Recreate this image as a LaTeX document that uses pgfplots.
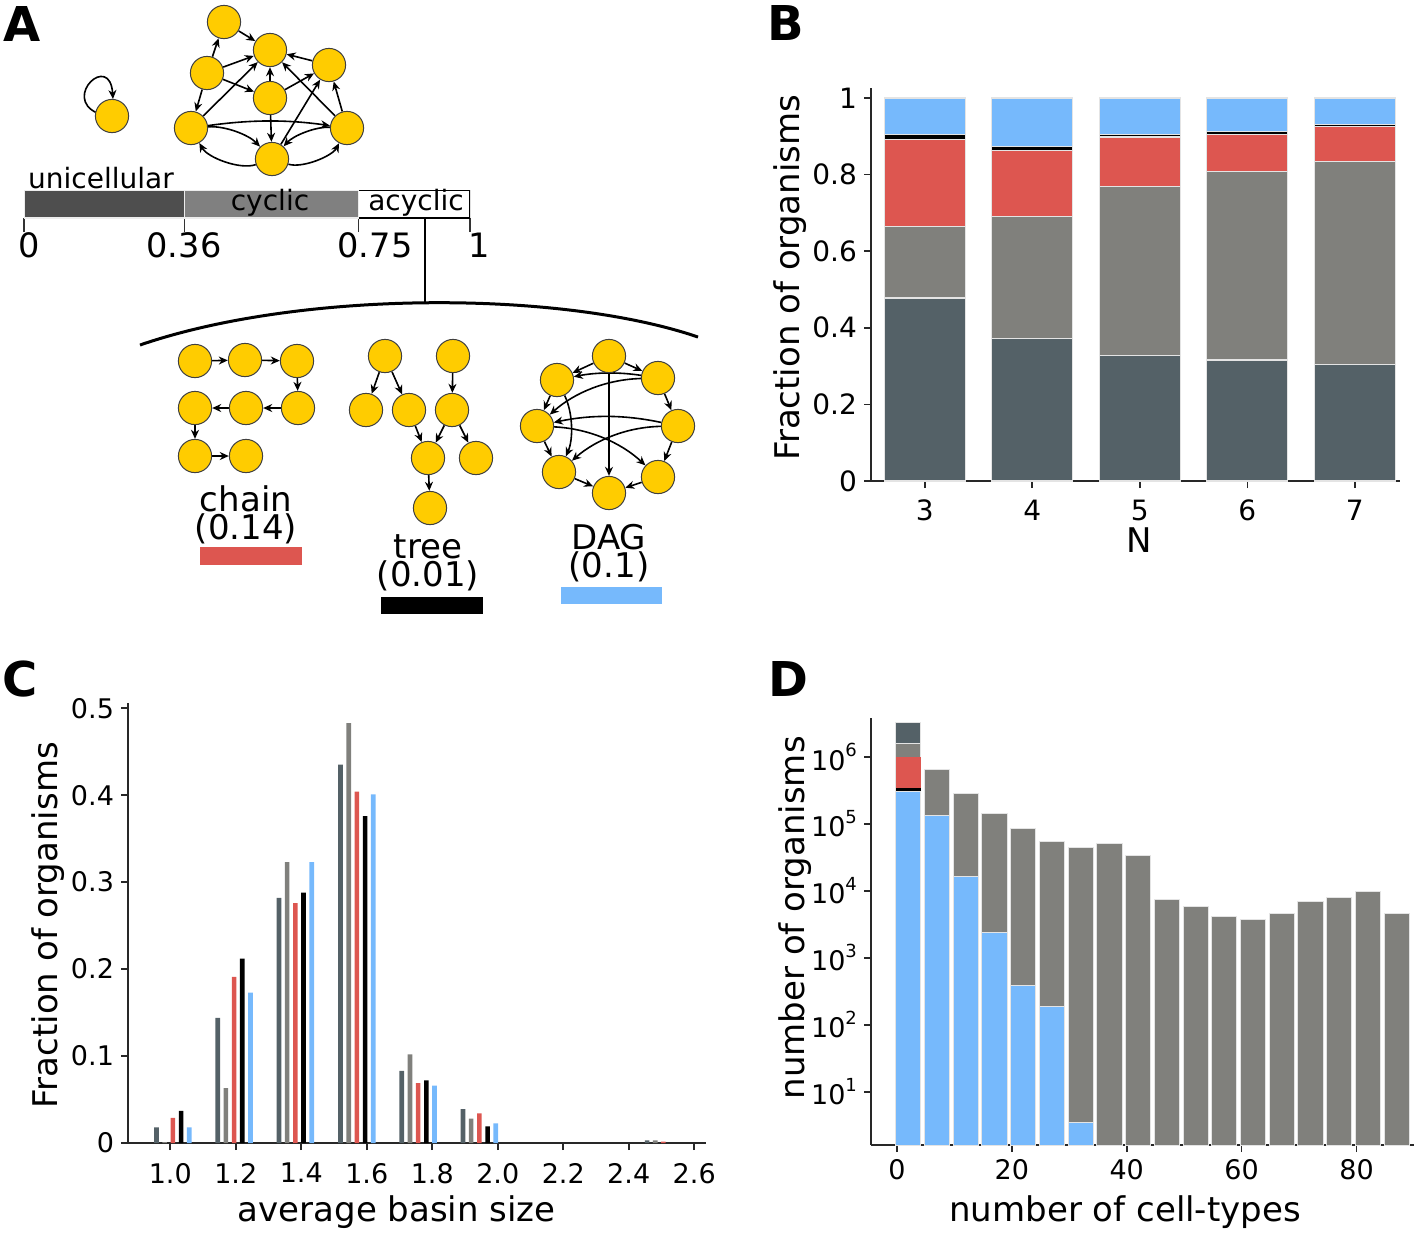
\documentclass[border=0pt]{standalone}
\usepackage{fontspec}
\setmainfont{DejaVu Sans}
\usepackage{pgfplots}
\pgfplotsset{compat=1.18}
\usetikzlibrary{arrows.meta}
\definecolor{cUni}{RGB}{84,97,103}
\definecolor{cCyc}{RGB}{128,128,124}
\definecolor{cChain}{RGB}{221,86,80}
\definecolor{cDAG}{RGB}{118,185,252}
\definecolor{cNode}{RGB}{255,204,0}
\definecolor{cBarDark}{RGB}{78,78,78}
\definecolor{cBarGray}{RGB}{128,128,128}
\definecolor{cEdge}{RGB}{228,228,228}
\definecolor{cAx}{RGB}{40,40,40}
\newcommand{\fs}[1]{\fontsize{#1}{#1}\selectfont}
\pgfplotsset{
  panel/.style={scale only axis, axis x line*=bottom, axis y line*=left,
    axis line style={cAx, line width=0.8pt}, tick style={cAx, line width=0.8pt},
    tick align=outside, major tick length=3.5pt,
    /pgf/number format/assume math mode=true,
    ticklabel style={font=\fs{14}}, label style={font=\fs{17}}},
}
\tikzset{arr/.style={-{Stealth[length=4.5pt,width=4pt]}, line width=0.8pt, black, shorten >=8.6pt, shorten <=8.6pt},
  twoline/.style={align=center, inner sep=0pt, font=\fontsize{17}{14}\selectfont}}
\newcommand{\pedge}[4]{\addplot[arr] coordinates {(#1,#2) (#3,#4)};}
\newcommand{\cedge}[5]{\draw[arr] (axis cs:#1,#2) to[#5] (axis cs:#3,#4);}
\begin{document}
\begin{tikzpicture}
% ---------------- Panel A bar ----------------
\begin{axis}[at={(12pt,-109pt)}, anchor=south west, scale only axis, width=223pt, height=14pt,
  xmin=0, xmax=1, ymin=-0.5, ymax=0.5, xbar stacked, bar width=14pt,
  hide y axis, axis x line*=bottom, axis line style={draw=none},
  xtick={0,0.36,0.75,1}, xticklabels={}, tick align=outside, major tick length=7pt,
  tick style={black!80, line width=0.6pt}]
\addplot[fill=cBarDark, draw=white!85!gray, line width=0.6pt] coordinates {(0.36,0)};
\addplot[fill=cBarGray, draw=white!85!gray, line width=0.6pt] coordinates {(0.39,0)};
\addplot[fill=white, draw=black, line width=0.8pt] coordinates {(0.25,0)};
\end{axis}
% ---------------- Panel A (diagram, pixel coordinates) ----------------
\begin{axis}[at={(0pt,0pt)}, anchor=north west, scale only axis, width=360pt, height=310pt,
  xmin=0, xmax=720, ymin=0, ymax=620, y dir=reverse, hide axis, clip=false]
% top graph
\pedge{224}{22}{270}{50}
\pedge{207}{73}{224}{22}
\pedge{207}{73}{270}{50}
\pedge{207}{73}{270}{98}
\pedge{207}{73}{191}{128}
\pedge{329}{65}{270}{50}
\pedge{270}{98}{270}{50}
\pedge{270}{98}{329}{65}
\pedge{270}{98}{272}{159}
\pedge{191}{128}{270}{50}
\pedge{347}{128}{270}{50}
\pedge{347}{128}{329}{65}
\pedge{272}{159}{329}{65}
\cedge{191}{128}{347}{128}{bend left=8}
\cedge{191}{128}{272}{159}{bend left=25}
\cedge{347}{128}{272}{159}{bend right=25}
\cedge{272}{159}{191}{128}{bend left=40}
\cedge{272}{159}{347}{128}{bend right=40}
\draw[-{Stealth[length=4.5pt,width=4pt]}, line width=0.8pt] (axis cs:97,113) .. controls (axis cs:62,97) and (axis cs:110,52) .. (axis cs:113,99);
% chain
\pedge{195}{361}{245}{360}
\pedge{245}{360}{297}{361}
\pedge{297}{361}{298}{408}
\pedge{298}{408}{246}{408}
\pedge{246}{408}{195}{408}
\pedge{195}{408}{195}{456}
\pedge{195}{456}{246}{456}
% tree
\pedge{385}{356}{366}{410}
\pedge{385}{356}{409}{410}
\pedge{453}{356}{452}{410}
\pedge{409}{410}{428}{458}
\pedge{452}{410}{428}{458}
\pedge{452}{410}{476}{458}
\pedge{428}{458}{430}{508}
% DAG
\pedge{609}{356}{557}{380}
\pedge{609}{356}{658}{378}
\pedge{609}{356}{609}{493}
\pedge{658}{378}{678}{426}
\pedge{557}{380}{537}{426}
\pedge{537}{426}{559}{472}
\pedge{678}{426}{658}{477}
\pedge{559}{472}{609}{493}
\pedge{658}{477}{609}{493}
\cedge{658}{378}{557}{380}{bend right=10}
\cedge{658}{378}{537}{426}{bend right=20}
\cedge{557}{380}{559}{472}{bend left=25}
\cedge{678}{426}{537}{426}{bend right=12}
\cedge{678}{426}{559}{472}{bend right=20}
\cedge{537}{426}{658}{477}{bend left=20}
% nodes
\addplot[only marks, mark=*, mark size=8.3pt, mark options={fill=cNode, draw=black!75, line width=0.5pt}] coordinates {
 (112,116) (224,22) (270,50) (207,73) (329,65) (270,98) (191,128) (347,128) (272,159)
 (195,361) (245,360) (297,361) (195,408) (246,408) (298,408) (195,456) (246,456)
 (385,356) (453,356) (366,410) (409,410) (452,410) (428,458) (476,458) (430,508)
 (609,356) (557,380) (658,378) (537,426) (678,426) (559,472) (658,477) (609,493)};
% bracket
\draw[line width=0.8pt] (axis cs:425,218) -- (axis cs:425,302);
\draw[line width=1.5pt] (axis cs:140,345) .. controls (axis cs:300,290) and (axis cs:560,290) .. (axis cs:698,337);
% texts
\node[font=\fs{14}] at (axis cs:101,178) {unicellular};
\node[font=\fs{14}] at (axis cs:270,203) {cyclic};
\node[font=\fs{14}] at (axis cs:416,203) {acyclic};
\node[font=\fs{16.8}] at (axis cs:29,245) {0};
\node[font=\fs{16.8}] at (axis cs:184,245) {0.36};
\node[font=\fs{16.8}] at (axis cs:375,245) {0.75};
\node[font=\fs{16.8}] at (axis cs:479,245) {1};
\node[twoline] at (axis cs:246,515) {chain\\(0.14)};
\node[twoline] at (axis cs:428,563) {tree\\(0.01)};
\node[twoline] at (axis cs:609,553) {DAG\\(0.1)};
\fill[cChain] (axis cs:200,547) rectangle (axis cs:302,565);
\fill[black] (axis cs:381,597) rectangle (axis cs:483,614);
\fill[cDAG] (axis cs:561,587) rectangle (axis cs:662,604);
\end{axis}
% ---------------- Panel B ----------------
\begin{axis}[panel, at={(435.5pt,-240.5pt)}, anchor=south west, width=264.5pt, height=196.5pt,
  xmin=2.5, xmax=7.42, ymin=0, ymax=1.026, ybar stacked, bar width=40.5pt,
  xtick={3,4,5,6,7}, ytick={0,0.2,0.4,0.6,0.8,1},
  xticklabel style={yshift=-2.5pt},
  xlabel={N}, ylabel={Fraction of organisms},
  xlabel style={at={(axis description cs:0.507,-0.15)}, anchor=center},
  ylabel style={at={(axis description cs:-0.153,0.517)}, anchor=center}]
\addplot[fill=cUni, draw=cEdge, line width=0.6pt] coordinates {(3,0.478) (4,0.373) (5,0.328) (6,0.316) (7,0.304)};
\addplot[fill=cCyc, draw=cEdge, line width=0.6pt] coordinates {(3,0.186) (4,0.318) (5,0.440) (6,0.492) (7,0.530)};
\addplot[fill=cChain, draw=cEdge, line width=0.6pt] coordinates {(3,0.227) (4,0.172) (5,0.130) (6,0.097) (7,0.092)};
\addplot[fill=black, draw=cEdge, line width=0.4pt] coordinates {(3,0.013) (4,0.011) (5,0.007) (6,0.008) (7,0.005)};
\addplot[fill=cDAG, draw=cEdge, line width=0.6pt] coordinates {(3,0.096) (4,0.126) (5,0.095) (6,0.087) (7,0.069)};
\end{axis}
% ---------------- Panel C ----------------
\begin{axis}[panel, at={(64pt,-571.5pt)}, anchor=south west, width=289pt, height=220pt,
  xmin=0.871, xmax=2.636, ymin=0, ymax=0.506,
  xtick={1.0,1.2,1.4,1.6,1.8,2.0,2.2,2.4,2.6},
  xticklabels={1.0,1.2,1.4,1.6,1.8,2.0,2.2,2.4,2.6},
  ytick={0,0.1,0.2,0.3,0.4,0.5}, yticklabels={0,0.1,0.2,0.3,0.4,0.5},
  ticklabel style={font=\fs{13.5}}, xticklabel style={yshift=-3pt},
  xlabel={average basin size}, ylabel={Fraction of organisms},
  xlabel style={at={(axis description cs:0.465,-0.157)}, anchor=center},
  ylabel style={at={(axis description cs:-0.138,0.495)}, anchor=center}]
\addplot[ybar, bar shift=0pt, bar width=2.3pt, fill=cUni, draw=none] coordinates {(0.958,0.018) (1.145,0.144) (1.332,0.282) (1.520,0.435) (1.707,0.083) (1.894,0.039) (2.456,0.003)};
\addplot[ybar, bar shift=0pt, bar width=2.3pt, fill=cCyc, draw=none] coordinates {(0.983,0.001) (1.170,0.063) (1.357,0.323) (1.545,0.483) (1.732,0.102) (1.919,0.028) (2.481,0.003)};
\addplot[ybar, bar shift=0pt, bar width=2.3pt, fill=cChain, draw=none] coordinates {(1.008,0.029) (1.195,0.191) (1.382,0.276) (1.570,0.404) (1.757,0.069) (1.944,0.034) (2.506,0.0017)};
\addplot[ybar, bar shift=0pt, bar width=2.3pt, fill=black, draw=none] coordinates {(1.033,0.037) (1.220,0.212) (1.407,0.288) (1.595,0.376) (1.782,0.072) (1.969,0.019)};
\addplot[ybar, bar shift=0pt, bar width=2.3pt, fill=cDAG, draw=none] coordinates {(1.058,0.018) (1.245,0.173) (1.432,0.323) (1.620,0.401) (1.807,0.066) (1.994,0.0225)};
\end{axis}
% ---------------- Panel D ----------------
\begin{axis}[panel, at={(435.5pt,-572.5pt)}, anchor=south west, width=271.5pt, height=213.5pt,
  xmin=-4.5, xmax=90, ymode=log, ymin=1.6, ymax=3.8e6, log origin=infty,
  xtick={0,20,40,60,80},
  ytick={10,100,1000,10000,100000,1000000},
  yticklabels={10\raisebox{0.5em}{\fs{9}1},10\raisebox{0.5em}{\fs{9}2},10\raisebox{0.5em}{\fs{9}3},10\raisebox{0.5em}{\fs{9}4},10\raisebox{0.5em}{\fs{9}5},10\raisebox{0.5em}{\fs{9}6}},
  yminorticks=false,
  ticklabel style={font=\fs{13.5}},
  xlabel={number of cell-types}, ylabel={number of organisms},
  xlabel style={at={(axis description cs:0.468,-0.157)}, anchor=center},
  ylabel style={at={(axis description cs:-0.140,0.532)}, anchor=center}]
\addplot[ybar, bar shift=0pt, bar width=12.6pt, fill=cUni, draw=cEdge, line width=0.5pt] coordinates {(2,3.26e6)};
\addplot[ybar, bar shift=0pt, bar width=12.6pt, fill=cCyc, draw=cEdge, line width=0.5pt] coordinates {
 (2,1.57e6) (7,6.55e5) (12,2.8e5) (17,1.45e5) (22,8.5e4) (27,5.4e4) (32,4.4e4) (37,5.15e4) (42,3.32e4)
 (47,7.45e3) (52,5.92e3) (57,4.08e3) (62,3.78e3) (67,4.58e3) (72,6.9e3) (77,7.84e3) (82,9.62e3) (87,4.58e3)};
\addplot[ybar, bar shift=0pt, bar width=12.6pt, fill=cChain, draw=none] coordinates {(2,1.0e6)};
\addplot[ybar, bar shift=0pt, bar width=12.6pt, fill=black, draw=none] coordinates {(2,3.44e5)};
\addplot[ybar, bar shift=0pt, bar width=12.6pt, fill=cDAG, draw=cEdge, line width=0.5pt] coordinates {(2,3.0e5) (7,1.33e5) (12,1.63e4) (17,2.39e3) (22,388) (27,185) (32,3.5)};
\end{axis}
% ---------------- panel letters ----------------
\node[font=\fs{24}\bfseries] at (11.25pt,-12.25pt) {A};
\node[font=\fs{24}\bfseries] at (393pt,-11.5pt) {B};
\node[font=\fs{24}\bfseries] at (10pt,-339.5pt) {C};
\node[font=\fs{24}\bfseries] at (394pt,-339.5pt) {D};
\pgfresetboundingbox
\useasboundingbox (0pt,0pt) rectangle (707pt,-616pt);
\end{tikzpicture}
\end{document}
